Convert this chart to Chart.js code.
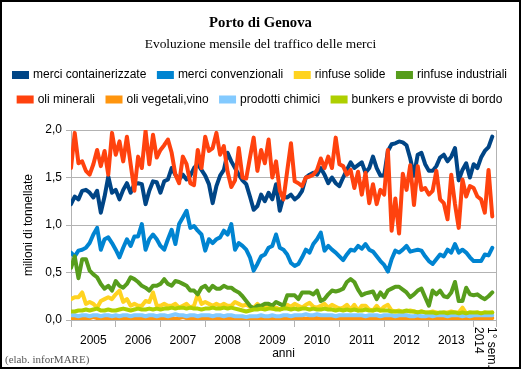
<!DOCTYPE html>
<html>
<head>
<meta charset="utf-8">
<script src="https://cdn.jsdelivr.net/npm/chart.js@4/dist/chart.umd.min.js"></script>
<style>
  html, body { margin: 0; padding: 0; background: #ffffff; }
  canvas { display: block; }
</style>
</head>
<body>
<canvas id="c" width="521" height="370"></canvas>
<script>
// ---------- categories ----------
const periods = ['2005','2006','2007','2008','2009','2010','2011','2012','2013','2014'];
const monthsInPeriod = [12,12,12,12,12,12,12,12,12,6];
const monthNames = ['gen','feb','mar','apr','mag','giu','lug','ago','set','ott','nov','dic'];
const yearLabels = ['2005','2006','2007','2008','2009','2010','2011','2012','2013'];
const lastPeriodLabel = ['1° sem.', '2014'];
const yTickValues = [0, 0.5, 1.0, 1.5, 2.0];

// ---------- series (milioni di tonnellate, monthly) ----------
const merciContainerizzate = [
1.22,1.30,1.27,1.36,1.37,1.34,1.29,1.36,1.13,1.30,1.51,1.34,
1.37,1.27,1.37,1.44,1.34,1.43,1.44,1.43,1.22,1.36,1.46,1.45,
1.34,1.46,1.48,1.60,1.53,1.48,1.53,1.48,1.52,1.60,1.64,1.58,
1.52,1.43,1.23,1.41,1.52,1.58,1.76,1.67,1.60,1.53,1.47,1.43,
1.30,1.16,1.20,1.32,1.25,1.34,1.27,1.43,1.15,1.30,1.29,1.32,
1.27,1.30,1.36,1.50,1.53,1.55,1.53,1.60,1.53,1.44,1.50,1.44,
1.41,1.50,1.58,1.66,1.60,1.63,1.66,1.55,1.60,1.72,1.60,1.52,
1.52,1.78,1.85,1.86,1.88,1.87,1.84,1.70,1.52,1.74,1.76,1.64,
1.57,1.57,1.62,1.71,1.74,1.67,1.72,1.81,1.47,1.58,1.65,1.50,
1.64,1.60,1.71,1.78,1.82,1.93];

const merciConvenzionali = [
0.71,0.67,0.73,0.74,0.76,0.81,0.90,0.97,0.74,0.85,0.87,0.81,
0.74,0.66,0.76,0.85,0.78,0.88,0.88,1.01,0.74,0.85,0.90,0.85,
0.78,0.74,0.85,0.95,0.80,1.01,1.08,1.15,0.97,0.99,0.94,0.90,
0.73,0.85,0.81,0.85,0.87,0.94,0.90,1.01,0.74,0.81,0.78,0.74,
0.66,0.52,0.59,0.67,0.69,0.76,0.78,0.90,0.76,0.74,0.69,0.60,
0.57,0.59,0.66,0.74,0.71,0.80,0.85,0.92,0.73,0.78,0.74,0.71,
0.67,0.63,0.69,0.74,0.73,0.78,0.75,0.80,0.74,0.72,0.67,0.62,
0.58,0.51,0.64,0.73,0.71,0.74,0.78,0.72,0.73,0.74,0.73,0.67,
0.62,0.59,0.64,0.69,0.67,0.74,0.71,0.80,0.71,0.74,0.71,0.66,
0.62,0.62,0.62,0.69,0.68,0.76];

const rinfuseSolide = [
0.22,0.24,0.24,0.29,0.17,0.19,0.17,0.13,0.20,0.22,0.24,0.22,
0.27,0.31,0.19,0.22,0.15,0.17,0.15,0.15,0.20,0.19,0.29,0.15,
0.15,0.17,0.15,0.15,0.17,0.13,0.15,0.17,0.13,0.15,0.27,0.17,
0.19,0.17,0.15,0.17,0.15,0.17,0.15,0.15,0.19,0.17,0.15,0.16,
0.14,0.13,0.17,0.12,0.14,0.15,0.12,0.13,0.11,0.13,0.16,0.14,
0.17,0.15,0.13,0.16,0.18,0.14,0.13,0.15,0.17,0.13,0.16,0.14,
0.12,0.13,0.16,0.11,0.16,0.10,0.15,0.15,0.11,0.10,0.15,0.10,
0.14,0.16,0.10,0.09,0.10,0.08,0.09,0.10,0.09,0.08,0.09,0.08,
0.08,0.09,0.08,0.07,0.08,0.08,0.09,0.08,0.08,0.13,0.07,0.08,
0.07,0.08,0.07,0.08,0.07,0.08];

const rinfuseIndustriali = [
0.55,0.67,0.44,0.64,0.64,0.52,0.48,0.45,0.38,0.33,0.36,0.31,
0.41,0.36,0.34,0.38,0.45,0.43,0.40,0.36,0.34,0.31,0.36,0.36,
0.38,0.43,0.38,0.36,0.41,0.40,0.38,0.36,0.31,0.31,0.27,0.34,
0.36,0.31,0.36,0.33,0.33,0.36,0.34,0.34,0.31,0.29,0.25,0.20,
0.15,0.12,0.15,0.15,0.17,0.17,0.15,0.19,0.17,0.15,0.26,0.26,
0.26,0.22,0.29,0.29,0.29,0.27,0.31,0.20,0.22,0.27,0.31,0.30,
0.31,0.33,0.40,0.43,0.40,0.32,0.26,0.28,0.29,0.30,0.22,0.29,
0.24,0.31,0.33,0.35,0.35,0.32,0.29,0.24,0.27,0.31,0.33,0.24,
0.15,0.31,0.27,0.31,0.25,0.24,0.29,0.40,0.20,0.20,0.34,0.27,
0.26,0.27,0.24,0.22,0.25,0.29];

const oliMinerali = [
1.60,1.97,1.65,1.67,1.57,1.53,1.64,1.79,1.62,1.78,1.53,1.97,
1.74,1.88,1.67,1.93,1.64,1.36,1.72,1.60,1.99,1.64,1.95,1.71,
1.79,1.84,1.90,1.76,1.53,1.44,1.72,1.64,1.44,1.42,1.79,1.60,
1.93,1.78,1.81,1.97,1.74,1.83,1.56,1.40,1.47,1.81,1.50,1.49,
1.71,1.92,1.57,1.79,1.65,1.90,1.50,1.67,1.36,1.27,1.57,1.86,
1.46,1.44,1.41,1.50,1.51,1.53,1.58,1.70,1.60,1.72,1.60,1.92,
1.64,1.62,1.53,1.58,1.39,1.56,1.32,1.55,1.23,1.43,1.22,1.37,
1.32,1.79,0.94,1.28,0.91,1.54,1.37,1.63,1.21,1.62,1.37,1.39,
1.32,1.36,1.57,1.27,1.23,1.06,1.53,1.22,0.97,1.48,1.30,1.41,
1.39,1.30,1.27,1.13,1.58,1.09];

const oliVegetaliVino = [
0.02,0.01,0.02,0.02,0.01,0.02,0.03,0.02,0.01,0.02,0.02,0.01,
0.02,0.02,0.01,0.02,0.02,0.01,0.02,0.02,0.02,0.01,0.02,0.02,
0.01,0.02,0.02,0.02,0.01,0.02,0.03,0.02,0.02,0.01,0.02,0.02,
0.02,0.02,0.01,0.02,0.02,0.02,0.01,0.02,0.02,0.02,0.01,0.02,
0.02,0.01,0.02,0.02,0.02,0.01,0.02,0.02,0.01,0.02,0.02,0.02,
0.01,0.02,0.02,0.01,0.02,0.02,0.02,0.01,0.02,0.02,0.01,0.02,
0.02,0.02,0.01,0.02,0.02,0.02,0.01,0.02,0.02,0.02,0.01,0.02,
0.02,0.01,0.02,0.02,0.02,0.02,0.01,0.02,0.02,0.02,0.02,0.02,
0.02,0.02,0.02,0.02,0.02,0.02,0.02,0.02,0.02,0.02,0.02,0.02,
0.02,0.02,0.02,0.02,0.02,0.02];

const prodottiChimici = [
0.05,0.05,0.04,0.05,0.05,0.04,0.05,0.05,0.04,0.05,0.05,0.04,
0.05,0.04,0.05,0.05,0.04,0.05,0.05,0.05,0.04,0.05,0.05,0.04,
0.05,0.05,0.04,0.05,0.06,0.05,0.05,0.04,0.05,0.05,0.04,0.05,
0.05,0.05,0.04,0.05,0.05,0.04,0.05,0.05,0.04,0.04,0.04,0.03,
0.04,0.04,0.04,0.05,0.04,0.04,0.05,0.04,0.04,0.05,0.05,0.04,
0.05,0.05,0.05,0.06,0.05,0.05,0.06,0.05,0.05,0.05,0.05,0.04,
0.05,0.05,0.05,0.05,0.05,0.05,0.05,0.04,0.05,0.05,0.05,0.04,
0.05,0.05,0.05,0.04,0.05,0.05,0.05,0.04,0.04,0.05,0.04,0.04,
0.05,0.04,0.05,0.05,0.05,0.04,0.05,0.05,0.05,0.04,0.05,0.04,
0.05,0.05,0.05,0.05,0.05,0.05];

const bunkersProvviste = [
0.09,0.09,0.10,0.10,0.11,0.10,0.11,0.12,0.10,0.10,0.11,0.10,
0.10,0.11,0.12,0.11,0.10,0.11,0.12,0.11,0.11,0.12,0.11,0.12,
0.11,0.12,0.12,0.13,0.12,0.13,0.13,0.12,0.13,0.12,0.12,0.11,
0.12,0.12,0.13,0.12,0.12,0.13,0.12,0.13,0.12,0.11,0.10,0.09,
0.10,0.11,0.11,0.12,0.11,0.12,0.12,0.11,0.11,0.12,0.12,0.11,
0.12,0.11,0.12,0.12,0.11,0.12,0.11,0.11,0.12,0.11,0.11,0.10,
0.11,0.10,0.11,0.10,0.11,0.10,0.10,0.11,0.10,0.10,0.11,0.10,
0.10,0.10,0.09,0.09,0.09,0.09,0.10,0.09,0.09,0.08,0.09,0.08,
0.08,0.08,0.07,0.08,0.08,0.07,0.08,0.08,0.07,0.08,0.07,0.08,
0.08,0.08,0.07,0.08,0.08,0.08];

const seriesNames = ['merci containerizzate','merci convenzionali','rinfuse solide','rinfuse industriali',
                     'oli minerali','oli vegetali,vino','prodotti chimici','bunkers e provviste di bordo'];
const seriesValues = [merciContainerizzate, merciConvenzionali, rinfuseSolide, rinfuseIndustriali,
                      oliMinerali, oliVegetaliVino, prodottiChimici, bunkersProvviste];
const seriesColors = ['#004586','#0084d1','#ffd320','#579d1c','#ff420e','#ff950e','#83caff','#aecf00'];

// month categories built from periods
const categories = periods.flatMap((p, k) => monthNames.slice(0, monthsInPeriod[k]).map(m => m + ' ' + p));

// period boundaries and mid points (in month units)
const boundaries = [0];
monthsInPeriod.forEach(n => boundaries.push(boundaries[boundaries.length - 1] + n));
const mids = monthsInPeriod.map((n, k) => boundaries[k] + n / 2);
const totalMonths = boundaries[boundaries.length - 1];

const GRAY = '#b3b3b3';
const SANS = "'Liberation Sans', Arial, sans-serif";
const SERIF = "'Liberation Serif', 'Times New Roman', serif";
const font12 = { family: SANS, size: 12 };

const datasets = seriesNames.map((name, i) => ({
  label: name,
  data: seriesValues[i].map((v, m) => ({ x: m, y: v })),
  borderColor: seriesColors[i],
  backgroundColor: seriesColors[i],
  borderWidth: 4,
  borderJoinStyle: 'round',
  borderCapStyle: 'round',
  pointRadius: 0,
  tension: 0,
  xAxisID: 'x',
  yAxisID: 'y',
  order: seriesNames.length - i
}));

const extras = {
  id: 'extras',
  afterDraw(chart) {
    const { ctx } = chart;
    const xs = chart.scales.x;
    ctx.save();
    // rotated label for the last half-year period
    const cx = xs.getPixelForValue(mids[mids.length - 1]);
    ctx.translate(cx, xs.top + 7);
    ctx.rotate(Math.PI / 2);
    ctx.font = '12px ' + SANS;
    ctx.fillStyle = '#000';
    ctx.textAlign = 'left';
    ctx.textBaseline = 'middle';
    ctx.fillText(lastPeriodLabel[0], 0, -6.5);
    ctx.fillText(lastPeriodLabel[1], 0, 6.5);
    ctx.restore();

    ctx.save();
    ctx.font = '11px ' + SERIF;
    ctx.fillStyle = '#555';
    ctx.textAlign = 'left';
    ctx.textBaseline = 'middle';
    ctx.fillText('(elab. inforMARE)', 5, 360);
    ctx.strokeStyle = '#000';
    ctx.lineWidth = 2;
    ctx.strokeRect(1, 1, chart.width - 2, chart.height - 3);
    ctx.restore();
  }
};

new Chart(document.getElementById('c'), {
  type: 'line',
  data: { labels: categories, datasets },
  plugins: [extras],
  options: {
    responsive: false,
    animation: false,
    devicePixelRatio: 1,
    events: [],
    layout: { padding: { left: 0, right: 0, top: 0, bottom: 2 } },
    plugins: {
      tooltip: { enabled: false },
      title: {
        display: true, text: 'Porto di Genova', color: '#000',
        font: { family: SERIF, size: 14.7, weight: 'bold' },
        padding: { top: 14.2, bottom: 0 }
      },
      subtitle: {
        display: true, text: 'Evoluzione mensile del traffico delle merci', color: '#000',
        font: { family: SERIF, size: 13.4, weight: 'normal' },
        padding: { top: 5.1, bottom: 3.5 }
      },
      legend: {
        position: 'top',
        labels: {
          boxWidth: 13, boxHeight: 4, padding: 12.5, color: '#000', font: font12,
          sort: (a, b) => a.datasetIndex - b.datasetIndex,
          generateLabels: (chart) => Chart.defaults.plugins.legend.labels.generateLabels(chart)
            .map(l => Object.assign(l, { lineJoin: 'miter', lineCap: 'butt' }))
        }
      }
    },
    scales: {
      x: {
        type: 'linear', position: 'bottom', min: 0, max: totalMonths,
        afterBuildTicks: s => { s.ticks = boundaries.concat(mids).sort((a, b) => a - b).map(v => ({ value: v })); },
        ticks: {
          autoSkip: false, maxRotation: 0, minRotation: 0, padding: 6, color: '#000', font: font12,
          callback: (v) => {
            const k = mids.indexOf(v);
            return (k >= 0 && k < yearLabels.length) ? yearLabels[k] : '';
          }
        },
        grid: {
          drawOnChartArea: true, tickLength: 7, lineWidth: 1,
          color: c => (c.tick && (c.tick.value === 0 || c.tick.value === totalMonths)) ? GRAY : 'rgba(0,0,0,0)',
          tickColor: c => (c.tick && boundaries.includes(c.tick.value)) ? GRAY : 'rgba(0,0,0,0)'
        },
        border: { color: GRAY },
        title: { display: true, text: 'anni', color: '#000', font: font12, padding: { top: 0, bottom: 7 } },
        afterFit: s => { s.height = 48; }
      },
      xTop: {
        type: 'linear', position: 'top', display: true,
        grid: { display: false, drawTicks: false }, border: { display: false }, ticks: { display: false },
        afterFit: s => { s.height = 14.5; }
      },
      y: {
        type: 'linear', position: 'left', min: 0, max: 2,
        afterBuildTicks: s => { s.ticks = yTickValues.map(v => ({ value: v })); },
        ticks: { padding: 4, color: '#000', font: font12, callback: v => v.toFixed(1).replace('.', ',') },
        grid: { color: GRAY, tickColor: GRAY, tickLength: 5, lineWidth: 1 },
        border: { color: GRAY },
        title: { display: true, text: 'milioni di tonnellate', color: '#000', font: font12, padding: { top: 21, bottom: 0 } },
        afterFit: s => { s.width = 71; }
      },
      yRight: {
        type: 'linear', position: 'right', display: true,
        grid: { display: false, drawTicks: false }, border: { display: false }, ticks: { display: false },
        afterFit: s => { s.width = 25; }
      }
    }
  }
});
</script>
</body>
</html>
